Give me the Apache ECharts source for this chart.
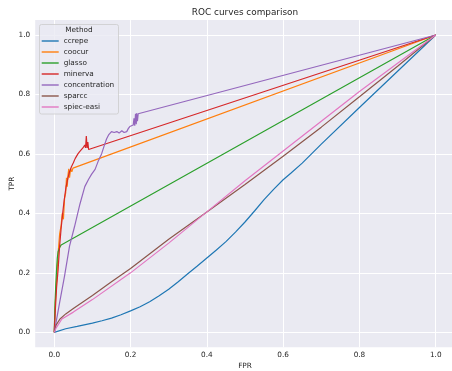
<!DOCTYPE html>
<html>
<head>
<meta charset="utf-8">
<script src="https://cdn.jsdelivr.net/npm/echarts@6/dist/echarts.min.js"></script>
<style>
  html, body { margin: 0; padding: 0; background: #ffffff; }
  #chart { width: 452px; height: 371px; }
</style>
</head>
<body>
<div id="chart"></div>
<script>
// ROC curve data: false positive rate (fpr) and true positive rate (tpr) per method
const methods = ['ccrepe', 'coocur', 'glasso', 'minerva', 'concentration', 'sparcc', 'spiec-easi'];
const colors = ['#1f77b4', '#ff7f0e', '#2ca02c', '#d62728', '#9467bd', '#8c564b', '#e377c2'];
const tickValues = [0, 0.2, 0.4, 0.6, 0.8, 1.0];

const ccrepeFpr = [0, 0.005, 0.03, 0.06, 0.1, 0.125, 0.15, 0.175, 0.2, 0.225, 0.25, 0.275, 0.3, 0.325, 0.35, 0.375, 0.4, 0.425, 0.45, 0.475, 0.5, 0.525, 0.55, 0.575, 0.6, 0.62, 0.65, 0.7, 0.8, 0.9, 1];
const ccrepeTpr = [0, 0.006, 0.012, 0.02, 0.031, 0.039, 0.048, 0.059, 0.072, 0.086, 0.103, 0.123, 0.145, 0.17, 0.197, 0.223, 0.25, 0.277, 0.305, 0.337, 0.371, 0.408, 0.446, 0.481, 0.513, 0.535, 0.569, 0.633, 0.756, 0.878, 1];

const coocurFpr = [0, 0.002, 0.005, 0.008, 0.011, 0.014, 0.018, 0.021, 0.024, 0.027, 0.03, 0.032, 0.034, 0.036, 0.038, 0.04, 0.043, 0.046, 0.049, 0.052, 1];
const coocurTpr = [0, 0.08, 0.15, 0.22, 0.28, 0.33, 0.36, 0.40, 0.38, 0.45, 0.47, 0.52, 0.49, 0.53, 0.55, 0.52, 0.55, 0.54, 0.552, 0.554, 1];

const glassoFpr = [0, 0.002, 0.004, 0.006, 0.008, 0.01, 0.014, 0.018, 1];
const glassoTpr = [0, 0.1, 0.16, 0.21, 0.25, 0.271, 0.285, 0.294, 1];

const minervaFpr = [0, 0.003, 0.006, 0.01, 0.014, 0.018, 0.022, 0.026, 0.031, 0.036, 0.04, 0.045, 0.05, 0.055, 0.058, 0.062, 0.066, 0.071, 0.075, 0.078, 0.08, 0.082, 0.084, 0.086, 0.088, 0.09, 0.093, 1];
const minervaTpr = [0, 0.08, 0.15, 0.21, 0.29, 0.35, 0.40, 0.445, 0.49, 0.52, 0.54, 0.557, 0.57, 0.585, 0.59, 0.60, 0.607, 0.613, 0.62, 0.615, 0.63, 0.62, 0.66, 0.62, 0.64, 0.615, 0.619, 1];

const concentrationFpr = [0, 0.014, 0.027, 0.04, 0.053, 0.067, 0.08, 0.09, 0.098, 0.107, 0.115, 0.124, 0.131, 0.137, 0.143, 0.15, 0.157, 0.164, 0.17, 0.177, 0.183, 0.19, 0.194, 0.198, 0.203, 0.207, 0.209, 0.211, 0.213, 0.215, 0.216, 0.218, 0.22, 0.222, 0.225, 1];
const concentrationTpr = [0, 0.1, 0.19, 0.29, 0.355, 0.43, 0.49, 0.515, 0.532, 0.548, 0.575, 0.6, 0.628, 0.65, 0.665, 0.675, 0.672, 0.675, 0.67, 0.678, 0.672, 0.675, 0.685, 0.692, 0.69, 0.697, 0.72, 0.695, 0.735, 0.70, 0.737, 0.71, 0.735, 0.737, 0.739, 1];

const sparccFpr = [0, 0.005, 0.015, 0.03, 0.05, 0.075, 0.1, 0.15, 0.2, 0.3, 0.4, 0.5, 0.6, 0.7, 0.8, 0.9, 1];
const sparccTpr = [0, 0.025, 0.045, 0.062, 0.08, 0.102, 0.124, 0.17, 0.215, 0.313, 0.405, 0.497, 0.592, 0.69, 0.792, 0.895, 1];

const spiecFpr = [0, 0.005, 0.02, 0.05, 0.1, 0.2, 0.3, 0.4, 0.5, 0.6, 0.7, 0.8, 0.9, 1];
const spiecTpr = [0, 0.015, 0.045, 0.068, 0.11, 0.2, 0.3, 0.405, 0.51, 0.61, 0.71, 0.81, 0.905, 1];

const curves = [
  [ccrepeFpr, ccrepeTpr],
  [coocurFpr, coocurTpr],
  [glassoFpr, glassoTpr],
  [minervaFpr, minervaTpr],
  [concentrationFpr, concentrationTpr],
  [sparccFpr, sparccTpr],
  [spiecFpr, spiecTpr]
];

const textColor = '#262626';
const fontFamily = 'DejaVu Sans';
const smallFont = 7.3;

const series = methods.map((name, i) => ({
  name: name,
  type: 'line',
  data: curves[i][0].map((x, k) => [x, curves[i][1][k]]),
  showSymbol: false,
  symbol: 'none',
  lineStyle: { width: 1.2, color: colors[i] },
  itemStyle: { color: colors[i] },
  animation: false
}));

const chart = echarts.init(document.getElementById('chart'), null, { renderer: 'canvas' });
chart.setOption({
  animation: false,
  backgroundColor: '#ffffff',
  color: colors,
  grid: {
    left: 35.2, top: 20.1, width: 419.6, height: 327.1,
    show: true, backgroundColor: '#eaeaf2', borderWidth: 0,
    containLabel: false,
    outerBoundsMode: 'none'
  },
  xAxis: {
    type: 'value', min: -0.05, max: 1.05,
    name: 'FPR', nameLocation: 'middle', nameGap: 14,
    nameTextStyle: { color: textColor, fontSize: smallFont, fontFamily: fontFamily },
    axisLine: { show: false }, axisTick: { show: false, customValues: tickValues },
    axisLabel: { customValues: tickValues, color: textColor, fontSize: smallFont, fontFamily: fontFamily, margin: 4,
      formatter: v => v.toFixed(1) },
    splitLine: { show: true, lineStyle: { color: '#ffffff', width: 1 } }
  },
  yAxis: {
    type: 'value', min: -0.05, max: 1.05,
    name: 'TPR', nameLocation: 'middle', nameGap: 20, nameMoveOverlap: false,
    nameTextStyle: { color: textColor, fontSize: smallFont, fontFamily: fontFamily },
    axisLine: { show: false }, axisTick: { show: false, customValues: tickValues },
    axisLabel: { customValues: tickValues, color: textColor, fontSize: smallFont, fontFamily: fontFamily, margin: 5,
      formatter: v => v.toFixed(1) },
    splitLine: { show: true, lineStyle: { color: '#ffffff', width: 1 } }
  },
  legend: {
    orient: 'vertical',
    left: 41.7, top: 36.5,
    padding: 0,
    itemWidth: 17, itemHeight: 1.4, itemGap: 2,
    icon: 'rect',
    data: methods,
    textStyle: { color: textColor, fontSize: smallFont, fontFamily: fontFamily, lineHeight: 9 },
    z: 10
  },
  graphic: [
    { type: 'text', x: 245, y: 12.5, z: 10,
      style: { text: 'ROC curves comparison', fill: textColor, font: '8.9px "DejaVu Sans"', textAlign: 'center', textVerticalAlign: 'middle' } },
    { type: 'rect', x: 39.5, y: 24.5, z: 5,
      shape: { width: 79, height: 89.5, r: 2 },
      style: { fill: 'rgba(234,234,242,0.8)', stroke: '#cccccc', lineWidth: 0.8 } },
    { type: 'text', x: 79, y: 30, z: 10,
      style: { text: 'Method', fill: textColor, font: '7.3px "DejaVu Sans"', textAlign: 'center', textVerticalAlign: 'middle' } }
  ],
  series: series
});
</script>
</body>
</html>
